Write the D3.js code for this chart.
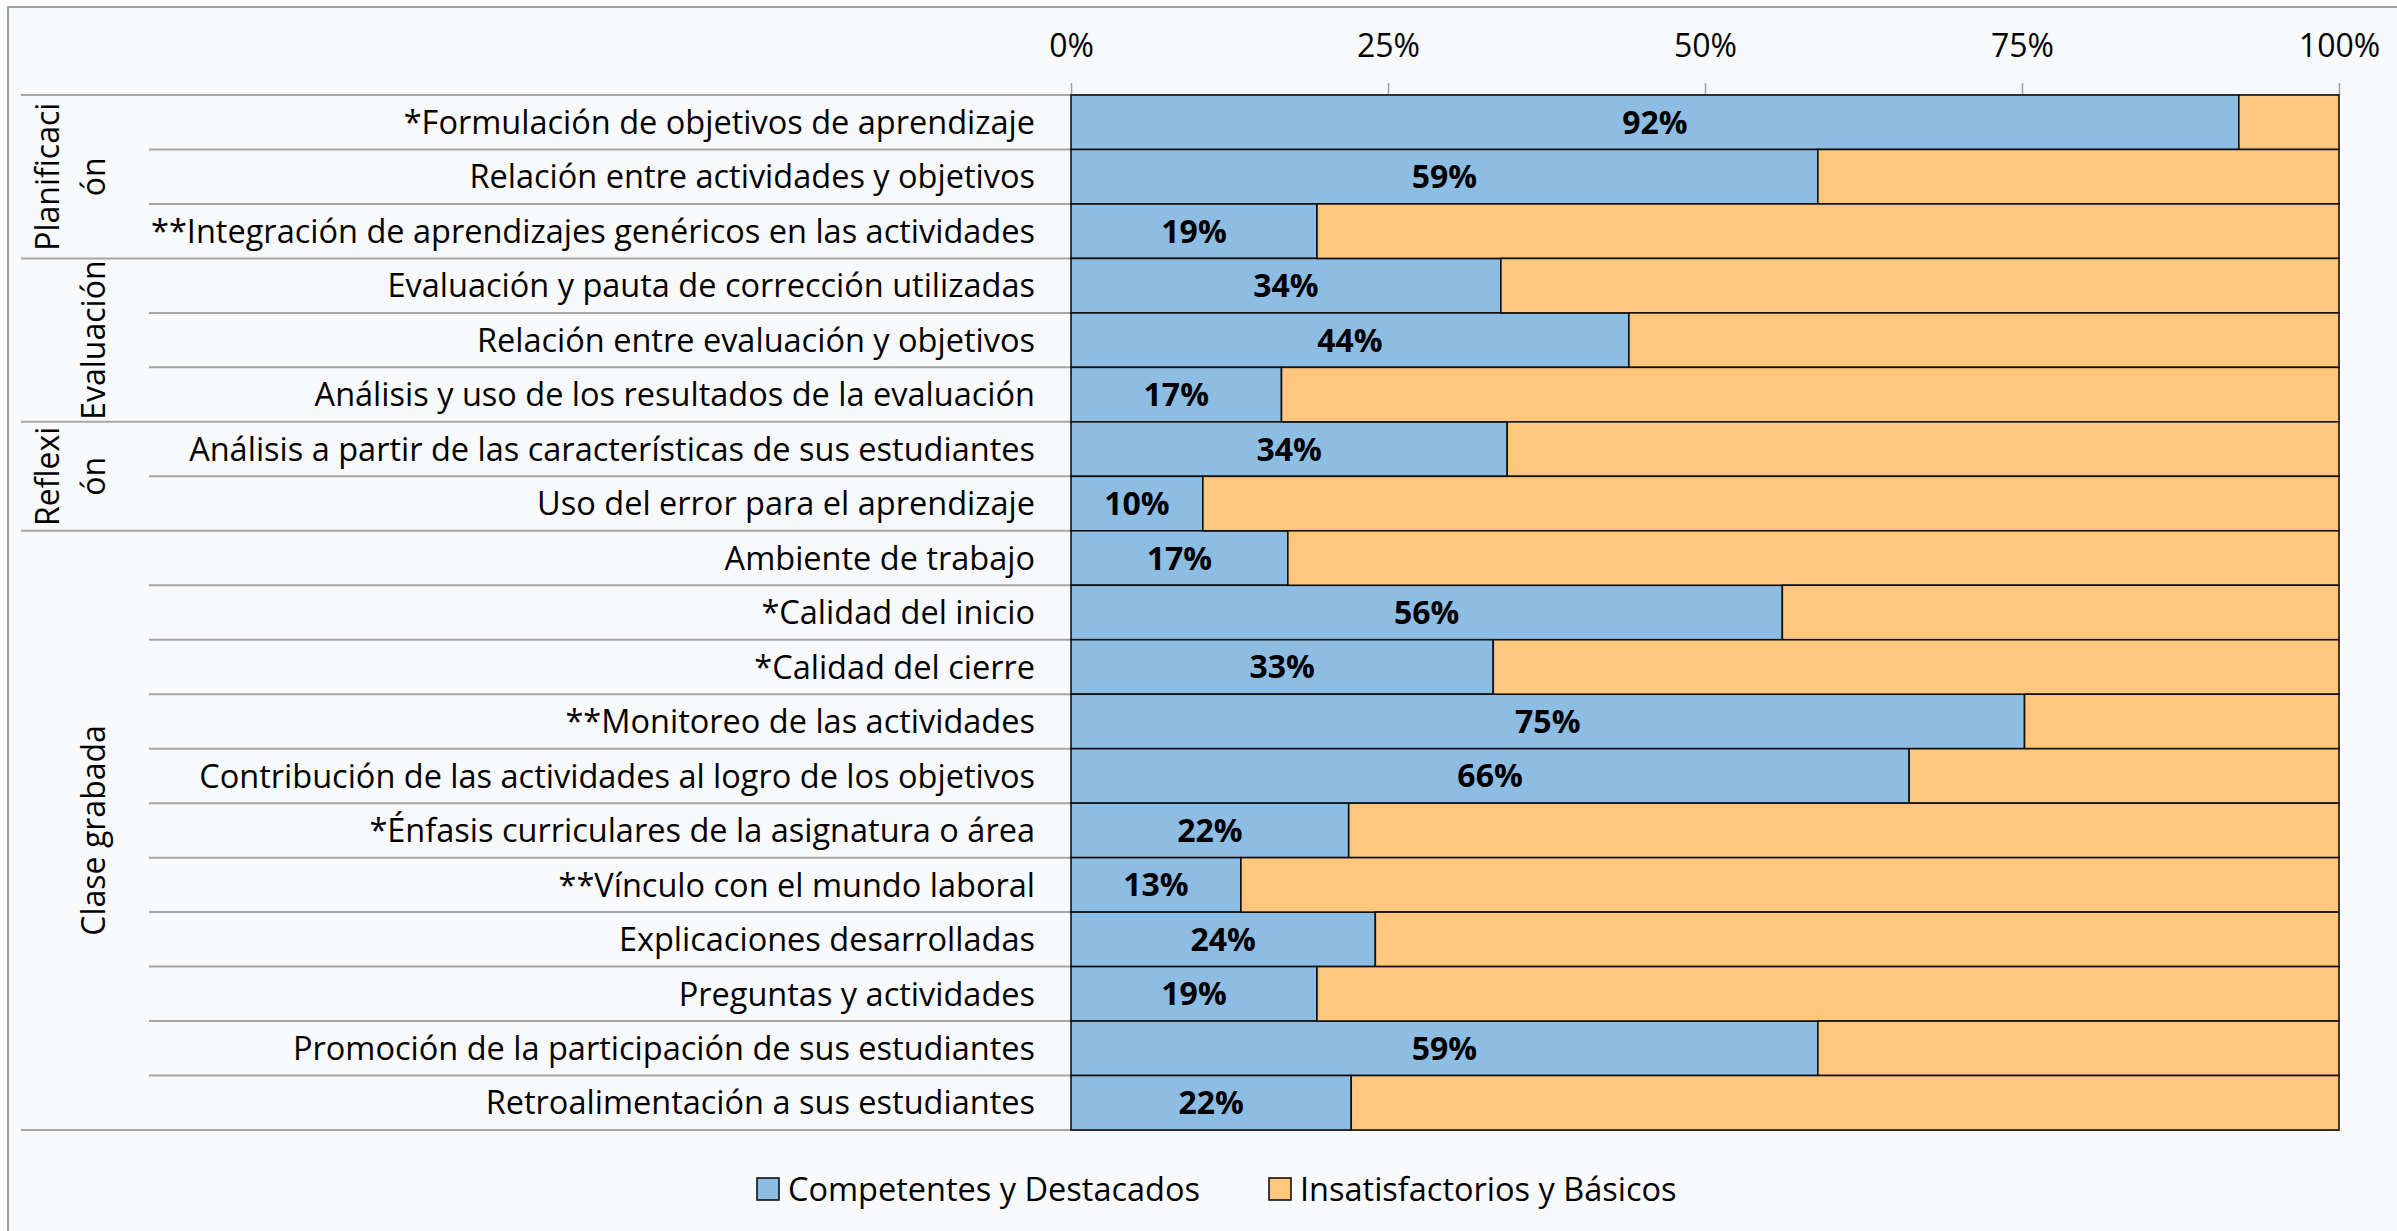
<!DOCTYPE html>
<html>
<head>
<meta charset="utf-8">
<script src="https://cdn.jsdelivr.net/npm/d3@7"></script>
<style>
  html, body { margin: 0; padding: 0; background: #ffffff; }
  svg { display: block; font-family: "Open Sans", "Noto Sans", sans-serif; }
</style>
</head>
<body>
<svg id="chart" width="2397" height="1231"></svg>
<script>
// rows, top to bottom
const categories = [
  "*Formulación de objetivos de aprendizaje",
  "Relación entre actividades y objetivos",
  "**Integración de aprendizajes genéricos en las actividades",
  "Evaluación y pauta de corrección utilizadas",
  "Relación entre evaluación y objetivos",
  "Análisis y uso de los resultados de la evaluación",
  "Análisis a partir de las características de sus estudiantes",
  "Uso del error para el aprendizaje",
  "Ambiente de trabajo",
  "*Calidad del inicio",
  "*Calidad del cierre",
  "**Monitoreo de las actividades",
  "Contribución de las actividades al logro de los objetivos",
  "*Énfasis curriculares de la asignatura o área",
  "**Vínculo con el mundo laboral",
  "Explicaciones desarrolladas",
  "Preguntas y actividades",
  "Promoción de la participación de sus estudiantes",
  "Retroalimentación a sus estudiantes"
];

// share "Competentes y Destacados" (%)
const competentes = [92.1, 58.9, 19.4, 33.9, 44.0, 16.6, 34.4, 10.4, 17.1, 56.1,
  33.3, 75.2, 66.1, 21.9, 13.4, 24.0, 19.4, 58.9, 22.1];
// share "Insatisfactorios y Básicos" (%)
const insatisfactorios = competentes.map((v) => 100 - v);

const groupNames = [["Planificaci", "ón"], ["Evaluación"], ["Reflexi", "ón"], ["Clase grabada"]];
const groupSizes = [3, 3, 2, 11];

const seriesNames = ["Competentes y Destacados", "Insatisfactorios y Básicos"];
const seriesColors = ["#8ebde4", "#fec77d"];

const xTicks = [0, 25, 50, 75, 100];

const svg = d3.select("#chart");
const W = 2397, H = 1231;

// chart area
svg.append("rect")
  .attr("x", 8).attr("y", 7)
  .attr("width", W).attr("height", H)
  .attr("fill", "#f8f9fb")
  .attr("stroke", "#a0a0a0")
  .attr("stroke-width", 2);

const x = d3.scaleLinear().domain([0, 100]).range([1071, 2339]);
const y = d3.scaleBand().domain(d3.range(categories.length)).range([95, 1130]).padding(0);
const labelRight = 1035;
const groupLeft = 21;
const rowLeft = 149;

// top axis
const axis = d3.axisTop(x)
  .tickValues(xTicks)
  .tickFormat((d) => d + "%")
  .tickSize(12)
  .tickPadding(26);

const ax = svg.append("g")
  .attr("transform", `translate(0,${y.range()[0]})`)
  .call(axis);
ax.select(".domain").remove();
ax.selectAll(".tick line").attr("stroke", "#a0a0a0").attr("stroke-width", 1.5);
ax.selectAll(".tick text")
  .attr("font-size", 32)
  .attr("fill", "#000")
  .style("font-family", "Open Sans");

// row grid on the label side
const rows = d3.range(categories.length + 1);
const groupStarts = [0];
groupSizes.forEach((s, i) => groupStarts.push(groupStarts[i] + s));

svg.append("g")
  .selectAll("line")
  .data(rows)
  .join("line")
  .attr("x1", (d) => (groupStarts.includes(d) ? groupLeft : rowLeft))
  .attr("x2", x(100))
  .attr("y1", (d) => (d < categories.length ? y(d) : y.range()[1]))
  .attr("y2", (d) => (d < categories.length ? y(d) : y.range()[1]))
  .attr("stroke", "#a6a6a6")
  .attr("stroke-width", 2);

// stacked bars
const table = categories.map((c, i) => ({ i, a: competentes[i], b: insatisfactorios[i] }));
const stacked = d3.stack().keys(["a", "b"])(table);

svg.append("g")
  .selectAll("g")
  .data(stacked)
  .join("g")
  .attr("fill", (d, k) => seriesColors[k])
  .selectAll("rect")
  .data((d) => d)
  .join("rect")
  .attr("x", (d) => x(d[0]))
  .attr("y", (d) => y(d.data.i))
  .attr("width", (d) => x(d[1]) - x(d[0]))
  .attr("height", y.bandwidth())
  .attr("stroke", "#111")
  .attr("stroke-width", 1.6);

// value labels
svg.append("g")
  .selectAll("text")
  .data(table)
  .join("text")
  .attr("x", (d) => x(d.a / 2))
  .attr("y", (d) => y(d.i) + y.bandwidth() / 2)
  .attr("dy", "0.36em")
  .attr("text-anchor", "middle")
  .attr("font-size", 32)
  .attr("font-weight", "bold")
  .attr("fill", "#000")
  .text((d) => Math.round(d.a) + "%");

// category labels
svg.append("g")
  .selectAll("text")
  .data(categories)
  .join("text")
  .attr("x", labelRight)
  .attr("y", (d, i) => y(i) + y.bandwidth() / 2)
  .attr("dy", "0.36em")
  .attr("text-anchor", "end")
  .attr("font-size", 32.5)
  .attr("fill", "#000")
  .text((d) => d);

// group labels (rotated)
const groups = svg.append("g");
groupNames.forEach((lines, g) => {
  const y0 = y(groupStarts[g]);
  const y1 = groupStarts[g + 1] < categories.length ? y(groupStarts[g + 1]) : y.range()[1];
  const cy = (y0 + y1) / 2;
  lines.forEach((line, j) => {
    const cx = 93 - (lines.length - 1 - j) * 46;
    groups.append("text")
      .attr("transform", `translate(${cx},${cy}) rotate(-90)`)
      .attr("dy", "0.36em")
      .attr("text-anchor", "middle")
      .attr("font-size", 32)
      .attr("fill", "#000")
      .text(line);
  });
});

// legend
const legendItems = [{ x: 757 }, { x: 1269 }];
const legend = svg.append("g")
  .selectAll("g")
  .data(seriesNames)
  .join("g")
  .attr("transform", (d, i) => `translate(${legendItems[i].x},1189)`);

legend.append("rect")
  .attr("x", 0).attr("y", -11)
  .attr("width", 22).attr("height", 22)
  .attr("fill", (d, i) => seriesColors[i])
  .attr("stroke", "#111")
  .attr("stroke-width", 1.6);

legend.append("text")
  .attr("x", 31)
  .attr("dy", "0.36em")
  .attr("font-size", 32.5)
  .attr("fill", "#000")
  .text((d) => d);
</script>
</body>
</html>
